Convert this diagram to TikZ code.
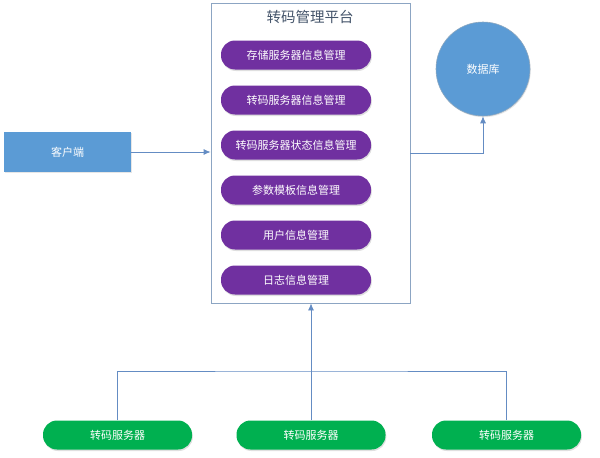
\documentclass[tikz,border=0pt]{standalone}
\usepackage{fontspec}
\newfontfamily\cjk{Noto Sans CJK SC}
\usetikzlibrary{shadows,arrows.meta}

\newlength{\du}
\setlength{\du}{1pt}

\definecolor{clientblue}{RGB}{91,155,213}
\definecolor{mgrpurple}{RGB}{112,48,160}
\definecolor{srvgreen}{RGB}{0,176,80}
\definecolor{framegray}{RGB}{140,165,195}
\definecolor{linkblue}{RGB}{100,140,195}
\definecolor{titlegray}{RGB}{68,84,106}

\tikzset{
  platbox/.style={draw=framegray, line width=0.8\du, fill=white,
    minimum width=199\du, minimum height=300\du, inner sep=0pt},
  mgrpill/.style={pillshape, fill=mgrpurple,
    minimum width=150\du, minimum height=29\du},
  srvpill/.style={pillshape, fill=srvgreen,
    minimum width=149\du, minimum height=29\du},
  pillshape/.style={rectangle, rounded corners=14pt, text=white,
    inner sep=0pt, font=\cjk\fontsize{11}{13}\selectfont,
    drop shadow={opacity=0.25, shadow xshift=0.8pt, shadow yshift=-1.5pt}},
  clientbox/.style={rectangle, fill=clientblue, text=white,
    minimum width=127\du, minimum height=40\du, inner sep=0pt,
    font=\cjk\fontsize{11}{13}\selectfont,
    drop shadow={opacity=0.2, shadow xshift=0.8pt, shadow yshift=-1.2pt}},
  dbcircle/.style={circle, fill=clientblue, draw=clientblue!70!black!60,
    line width=0.6\du, text=white, minimum size=94\du, inner sep=0pt,
    font=\cjk\fontsize{11}{13}\selectfont,
    drop shadow={opacity=0.2, shadow xshift=0.8pt, shadow yshift=-1.2pt}},
  link/.style={draw=linkblue, line width=0.8\du},
  arrowtip/.style={-{Latex[length=7pt,width=6pt]}}
}

\begin{document}
\begin{tikzpicture}[x=1\du,y=-1\du]
\useasboundingbox (0,0) rectangle (600,458);

% platform
\node[platbox] (plat) at (310.5,153) {};
\node[text=titlegray, font=\cjk\fontsize{14.5}{17}\selectfont] (title) at (310,17) {转码管理平台};
\foreach \y/\t/\n in {55/存储服务器信息管理/m1, 100/转码服务器信息管理/m2,
    145/转码服务器状态信息管理/m3, 190/参数模板信息管理/m4,
    235/用户信息管理/m5, 280/日志信息管理/m6}
  \node[mgrpill] (\n) at (296,\y) {\t};

% client and database
\node[clientbox] (client) at (67.5,152) {客户端};
\node[dbcircle] (db) at (483,69) {数据库};

% transcoding servers
\node[srvpill] (s1) at (117.5,435) {转码服务器};
\node[srvpill] (s2) at (311,435) {转码服务器};
\node[srvpill] (s3) at (506.5,435) {转码服务器};
\coordinate (bus) at (311,371);

% connectors
\draw[link,arrowtip] (client.east) -- (client.east -| plat.west);
\draw[link,arrowtip] (plat.east) -| (db.south);
\draw[link,arrowtip] (s2.north) -- (s2.north |- plat.south);
\draw[link] (s1.north) |- (bus) -| (s3.north);
\end{tikzpicture}
\end{document}
